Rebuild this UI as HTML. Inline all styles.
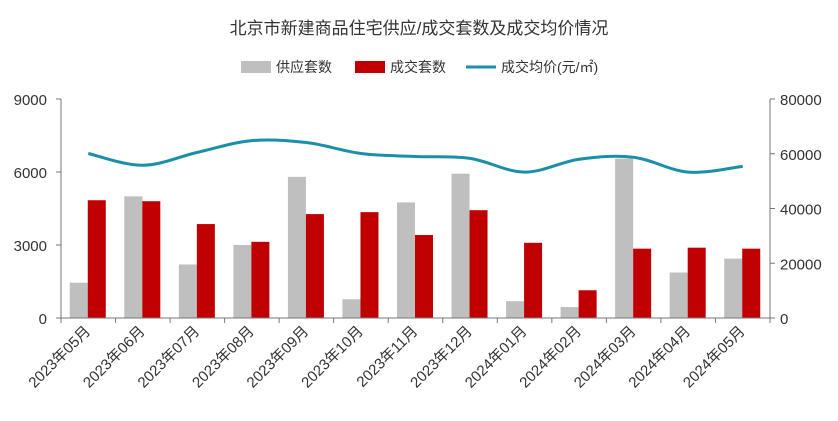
<!DOCTYPE html>
<html><head><meta charset="utf-8"><style>
body{margin:0;background:#fff;}
svg text{font-family:"Liberation Sans","Noto Sans CJK SC",sans-serif;}
</style></head><body>
<svg id="chart" width="838" height="416" xmlns="http://www.w3.org/2000/svg">
<text x="419" y="34" text-anchor="middle" font-size="17" fill="#333">北京市新建商品住宅供应/成交套数及成交均价情况</text>
<g>
<rect x="241" y="61" width="30" height="12" fill="#bfbfbf"/>
<text x="276" y="72" font-size="14" fill="#333">供应套数</text>
<rect x="355" y="61" width="30" height="12" fill="#c00000"/>
<text x="390" y="72" font-size="14" fill="#333">成交套数</text>
<line x1="466" y1="67" x2="496" y2="67" stroke="#1a8fa8" stroke-width="3"/>
<text x="501" y="72" font-size="14" fill="#333">成交均价(元/㎡)</text>
</g>
<g id="plot"></g>
</svg>
<script>
const categories=["2023年05月","2023年06月","2023年07月","2023年08月","2023年09月","2023年10月","2023年11月","2023年12月","2024年01月","2024年02月","2024年03月","2024年04月","2024年05月"];
const supply=[1450,5000,2200,3000,5800,770,4750,5930,690,450,6550,1870,2440];
const deals=[4840,4800,3860,3130,4270,4350,3410,4430,3090,1140,2850,2890,2850];
const price=[60100,55800,60500,64800,64100,60100,59000,58300,53300,58000,58700,53300,55400];
const leftTicks=[0,3000,6000,9000];
const rightTicks=[0,20000,40000,60000,80000];
const X0=61,X1=770,Y0=318,Y1=99;
const bw=(X1-X0)/categories.length;
const yL=v=>Y0-(v/9000)*(Y0-Y1);
const yR=v=>Y0-(v/80000)*(Y0-Y1);
const cx=i=>X0+bw*(i+0.5);
const NS="http://www.w3.org/2000/svg";
const g=document.getElementById('plot');
function mk(t,a){const e=document.createElementNS(NS,t);for(const k in a)e.setAttribute(k,a[k]);g.appendChild(e);return e;}
categories.forEach((c,i)=>{
 const r1=mk('rect',{x:cx(i)-18.5,y:yL(supply[i]),width:18,height:Y0-yL(supply[i]),fill:'#bfbfbf'});
 
 
 const r2=mk('rect',{x:cx(i)-0.5,y:yL(deals[i]),width:18,height:Y0-yL(deals[i]),fill:'#c00000'});
 
 
});
const ax=mk('path',{d:`M${X0} ${Y1}V${Y0}H${X1}V${Y1}`,fill:'none',stroke:'#777','stroke-width':1});


leftTicks.forEach(v=>{
 mk('line',{x1:X0-5,x2:X0,y1:yL(v),y2:yL(v),stroke:'#777'});
 const t=mk('text',{x:X0-14,y:yL(v)+6,'text-anchor':'end','font-size':15,fill:'#333'});t.textContent=v;
 
 
});
rightTicks.forEach(v=>{
 mk('line',{x1:X1,x2:X1+5,y1:yR(v),y2:yR(v),stroke:'#777'});
 const t=mk('text',{x:X1+10,y:yR(v)+6,'font-size':15,fill:'#333'});t.textContent=v;
 
 
});
for(let i=0;i<=categories.length;i++)mk('line',{x1:X0+bw*i,x2:X0+bw*i,y1:Y0,y2:Y0+5,stroke:'#777'});
categories.forEach((c,i)=>{
 const x=cx(i)+3,y=Y0+14;
 const t=mk('text',{x:x,y:y,'text-anchor':'end','font-size':15,fill:'#333',transform:`rotate(-45 ${x} ${y})`});t.textContent=c;
 
 
});
const pts=price.map((v,i)=>[cx(i),yR(v)]);
let d=`M${pts[0][0]} ${pts[0][1]}`;
for(let i=0;i<pts.length-1;i++){
 const p0=pts[Math.max(0,i-1)],p1=pts[i],p2=pts[i+1],p3=pts[Math.min(pts.length-1,i+2)];
 const t=0.17;
 d+=` C${p1[0]+(p2[0]-p0[0])*t} ${p1[1]+(p2[1]-p0[1])*t} ${p2[0]-(p3[0]-p1[0])*t} ${p2[1]-(p3[1]-p1[1])*t} ${p2[0]} ${p2[1]}`;
}
const ln=mk('path',{d:d,fill:'none',stroke:'#1a8fa8','stroke-width':3});


</script>
</body></html>
